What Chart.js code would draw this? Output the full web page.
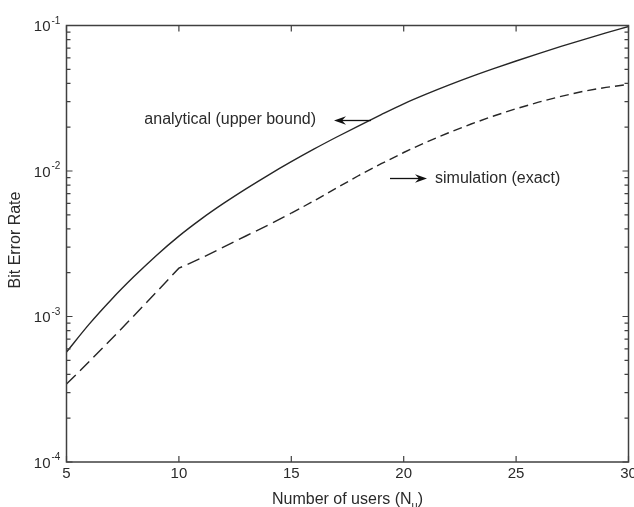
<!DOCTYPE html>
<html>
<head>
<meta charset="utf-8">
<script src="https://cdn.jsdelivr.net/npm/chart.js@4/dist/chart.umd.min.js"></script>
<style>
  html, body { margin: 0; padding: 0; background: #ffffff; }
  #wrap { width: 634px; height: 507px; }
</style>
</head>
<body>
<div id="wrap"><canvas id="ber" width="634" height="507"></canvas></div>
<script>
// Number of active users
const users = [5, 6, 7, 8, 9, 10, 11, 12, 13, 14, 15, 16, 17, 18, 19, 20,
               21, 22, 23, 24, 25, 26, 27, 28, 29, 30];

// Analytical BER (upper bound)
const berAnalytical = [5.70e-4, 8.83e-4, 1.31e-3, 1.88e-3, 2.63e-3, 3.57e-3, 4.69e-3,
                       6.01e-3, 7.57e-3, 9.42e-3, 1.159e-2, 1.413e-2, 1.706e-2, 2.046e-2,
                       2.443e-2, 2.897e-2, 3.373e-2, 3.89e-2, 4.45e-2, 5.05e-2, 5.70e-2,
                       6.41e-2, 7.18e-2, 8.00e-2, 8.89e-2, 9.84e-2];

// Simulated BER (exact)
const berSimulation = [3.43e-4, 4.88e-4, 7.00e-4, 1.012e-3, 1.472e-3, 2.148e-3, 2.523e-3,
                       3.006e-3, 3.589e-3, 4.266e-3, 5.129e-3, 6.223e-3, 7.621e-3, 9.311e-3,
                       1.122e-2, 1.340e-2, 1.578e-2, 1.832e-2, 2.104e-2, 2.388e-2, 2.679e-2,
                       2.972e-2, 3.258e-2, 3.532e-2, 3.758e-2, 3.936e-2];

// Axis ticks
const xTicks = [5, 10, 15, 20, 25, 30];
const yDecades = [-4, -3, -2, -1];
const yMinorMultipliers = [2, 3, 4, 5, 6, 7, 8, 9];

const FONT = '"Liberation Sans", Arial, Helvetica, sans-serif';
const INK = '#2a2a2a';
const LINE = '#262626';
const FRAME = '#404040';

function toPoints(xs, ys) {
  return xs.map((x, i) => ({ x: x, y: ys[i] }));
}

function drawArrow(ctx, x0, y0, x1, y1) {
  // shaft from (x0,y0) to tip (x1,y1), barbed head at the tip
  const ang = Math.atan2(y1 - y0, x1 - x0);
  const len = 12, half = 4.2, notch = 8;
  ctx.save();
  ctx.strokeStyle = '#111';
  ctx.fillStyle = '#111';
  ctx.lineWidth = 1.3;
  ctx.beginPath();
  ctx.moveTo(x0, y0);
  ctx.lineTo(x1 - Math.cos(ang) * notch, y1 - Math.sin(ang) * notch);
  ctx.stroke();
  ctx.translate(x1, y1);
  ctx.rotate(ang);
  ctx.beginPath();
  ctx.moveTo(0, 0);
  ctx.lineTo(-len, -half);
  ctx.lineTo(-notch, 0);
  ctx.lineTo(-len, half);
  ctx.closePath();
  ctx.fill();
  ctx.restore();
}

// Frame, inward ticks, power-of-ten labels, axis titles and annotations
const decorations = {
  id: 'decorations',
  afterDraw(chart) {
    const ctx = chart.ctx;
    const area = chart.chartArea;
    const xs = chart.scales.x;
    const ys = chart.scales.y;

    ctx.save();
    // frame
    ctx.strokeStyle = FRAME;
    ctx.lineWidth = 1.5;
    ctx.strokeRect(area.left, area.top, area.right - area.left, area.bottom - area.top);

    // x ticks, bottom and top, pointing inward
    ctx.lineWidth = 1.2;
    ctx.beginPath();
    xTicks.forEach(v => {
      const px = xs.getPixelForValue(v);
      ctx.moveTo(px, area.bottom); ctx.lineTo(px, area.bottom - 6);
      ctx.moveTo(px, area.top); ctx.lineTo(px, area.top + 6);
    });
    // y ticks, left and right
    yDecades.forEach((d, i) => {
      const py = ys.getPixelForValue(Math.pow(10, d));
      ctx.moveTo(area.left, py); ctx.lineTo(area.left + 6, py);
      ctx.moveTo(area.right, py); ctx.lineTo(area.right - 6, py);
      if (i < yDecades.length - 1) {
        yMinorMultipliers.forEach(m => {
          const pm = ys.getPixelForValue(m * Math.pow(10, d));
          ctx.moveTo(area.left, pm); ctx.lineTo(area.left + 4, pm);
          ctx.moveTo(area.right, pm); ctx.lineTo(area.right - 4, pm);
        });
      }
    });
    ctx.stroke();

    // y tick labels as 10 with a raised exponent
    ctx.fillStyle = INK;
    yDecades.forEach(d => {
      const py = ys.getPixelForValue(Math.pow(10, d));
      ctx.font = '15px ' + FONT;
      ctx.textAlign = 'right';
      ctx.textBaseline = 'middle';
      ctx.fillText('10', area.left - 16, py + 1.5);
      ctx.font = '10px ' + FONT;
      ctx.textAlign = 'left';
      ctx.textBaseline = 'alphabetic';
      ctx.fillText(String(d), area.left - 15, py - 2);
    });

    // x title with subscript
    const mainA = 'Number of users (N';
    const sub = 'u';
    const mainB = ')';
    ctx.font = '16px ' + FONT;
    const wA = ctx.measureText(mainA).width;
    const wB = ctx.measureText(mainB).width;
    ctx.font = '11px ' + FONT;
    const wS = ctx.measureText(sub).width;
    const total = wA + wS + wB;
    const tx = (area.left + area.right) / 2 - total / 2;
    const base = 503.5;
    ctx.textAlign = 'left';
    ctx.textBaseline = 'alphabetic';
    ctx.font = '16px ' + FONT;
    ctx.fillText(mainA, tx, base);
    ctx.font = '11px ' + FONT;
    ctx.fillText(sub, tx + wA, base + 5);
    ctx.font = '16px ' + FONT;
    ctx.fillText(mainB, tx + wA + wS, base);

    // y title
    ctx.save();
    ctx.translate(15.5, 240);
    ctx.rotate(-Math.PI / 2);
    ctx.textAlign = 'center';
    ctx.textBaseline = 'middle';
    ctx.font = '16px ' + FONT;
    ctx.fillText('Bit Error Rate', 0, 0);
    ctx.restore();

    // annotations
    ctx.font = '16px ' + FONT;
    ctx.textBaseline = 'middle';
    ctx.textAlign = 'right';
    ctx.fillText('analytical (upper bound)', 316, 120);
    drawArrow(ctx, 371, 120.5, 334, 120.5);
    ctx.textAlign = 'left';
    ctx.fillText('simulation (exact)', 435, 179);
    drawArrow(ctx, 390, 178.5, 427, 178.5);

    ctx.restore();
  }
};

new Chart(document.getElementById('ber'), {
  type: 'line',
  data: {
    datasets: [
      {
        label: 'analytical (upper bound)',
        data: toPoints(users, berAnalytical),
        borderColor: LINE,
        borderWidth: 1.4,
        pointRadius: 0,
        cubicInterpolationMode: 'monotone',
        fill: false
      },
      {
        label: 'simulation (exact)',
        data: toPoints(users, berSimulation),
        borderColor: LINE,
        borderWidth: 1.4,
        pointRadius: 0,
        tension: 0,
        fill: false,
        segment: {
          borderDash: c => (c.p0.parsed.x < 15 ? [13, 6] : [9, 5])
        }
      }
    ]
  },
  options: {
    responsive: false,
    animation: false,
    events: [],
    layout: { padding: { left: 0, top: 25.5, right: 5.5, bottom: 0 } },
    plugins: {
      legend: { display: false },
      tooltip: { enabled: false },
      title: { display: false }
    },
    scales: {
      x: {
        type: 'linear',
        min: 5,
        max: 30,
        grid: { display: false, drawTicks: false },
        border: { display: false },
        ticks: {
          stepSize: 5,
          padding: 3,
          autoSkip: false,
          maxRotation: 0,
          color: INK,
          font: { family: FONT, size: 15 }
        },
        afterFit(scale) {
          scale.height = 45;
          scale.paddingLeft = 0;
          scale.paddingRight = 0;
        }
      },
      y: {
        type: 'logarithmic',
        min: 1e-4,
        max: 1e-1,
        grid: { display: false, drawTicks: false },
        border: { display: false },
        ticks: { display: false },
        afterFit(scale) {
          scale.width = 66.5;
          scale.paddingTop = 0;
          scale.paddingBottom = 0;
        }
      }
    }
  },
  plugins: [decorations]
});
</script>
</body>
</html>
